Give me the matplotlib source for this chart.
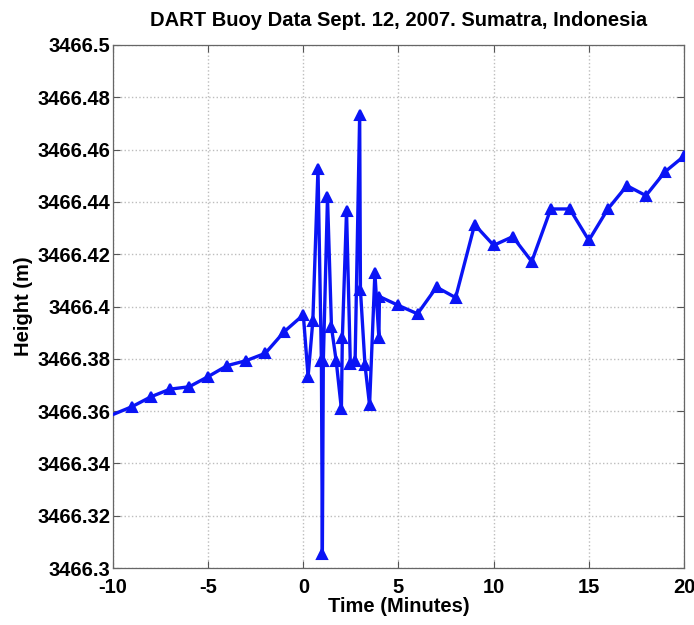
import numpy as np
import matplotlib
matplotlib.use("Agg")
import matplotlib.pyplot as plt

# time in minutes, height in m
minutes = [-10, -9, -8, -7, -6, -5, -4, -3, -2, -1,
           0, 0.25, 0.5, 0.77, 0.95, 1.0, 1.05, 1.27, 1.48, 1.73,
           2.0, 2.05, 2.27, 2.47, 2.72, 2.96, 3.0, 3.24, 3.48, 3.76,
           3.97, 4.0, 5, 6, 7, 8, 9, 10, 11, 12,
           13, 14, 15, 16, 17, 18, 19, 20]
height = [3466.3587, 3466.3617, 3466.3655, 3466.3684, 3466.3693, 3466.3732,
          3466.3774, 3466.3793, 3466.3821, 3466.3904,
          3466.3968, 3466.3732, 3466.3945, 3466.4527, 3466.3790, 3466.3055,
          3466.3790, 3466.4417, 3466.3920, 3466.3790,
          3466.3608, 3466.3880, 3466.4366, 3466.3780, 3466.3790, 3466.4734,
          3466.4064, 3466.3776, 3466.3623, 3466.4128,
          3466.3880, 3466.4038, 3466.4004, 3466.3972, 3466.4074, 3466.4034,
          3466.4313, 3466.4234, 3466.4267, 3466.4172,
          3466.4373, 3466.4373, 3466.4253, 3466.4373, 3466.4462, 3466.4424,
          3466.4515, 3466.4575]

xticks = [-10, -5, 0, 5, 10, 15, 20]
yticks = [3466.30, 3466.32, 3466.34, 3466.36, 3466.38, 3466.40,
          3466.42, 3466.44, 3466.46, 3466.48, 3466.50]
ytick_labels = ['3466.3', '3466.32', '3466.34', '3466.36', '3466.38', '3466.4',
                '3466.42', '3466.44', '3466.46', '3466.48', '3466.5']

plt.rcParams['font.family'] = ['Liberation Sans', 'DejaVu Sans']
plt.rcParams['font.weight'] = 'bold'

fig = plt.figure(figsize=(6.94, 6.25), dpi=100)
ax = fig.add_axes([0.1628, 0.0912, 0.8228, 0.8368])

ax.plot(minutes, height, '-^', color='#0a14f5', lw=2.4, ms=7.5, mew=1.5,
        markevery=list(range(1, len(minutes))), zorder=3)

ax.set_xlim(-10, 20)
ax.set_ylim(3466.3, 3466.5)
ax.set_xticks(xticks)
ax.set_xticklabels([str(t) for t in xticks])
ax.set_yticks(yticks)
ax.set_yticklabels(ytick_labels)

ax.grid(True, linestyle=':', color='#bdbdbd', lw=1.0)
ax.tick_params(direction='in', length=5, width=0.8, color='#555555',
               top=True, right=True, labelsize=14.5)
ax.tick_params(axis='x', pad=7)
ax.tick_params(axis='y', pad=2)
for s in ax.spines.values():
    s.set_color('#666666')
    s.set_linewidth(0.9)

ax.set_title('DART Buoy Data Sept. 12, 2007. Sumatra, Indonesia',
             fontsize=14.5, fontweight='bold', pad=14)
ax.set_xlabel('Time (Minutes)', fontsize=14.5, fontweight='bold', labelpad=0)
ax.set_ylabel('Height (m)', fontsize=14.5, fontweight='bold', labelpad=3)

fig.savefig('out.png', dpi=100)
